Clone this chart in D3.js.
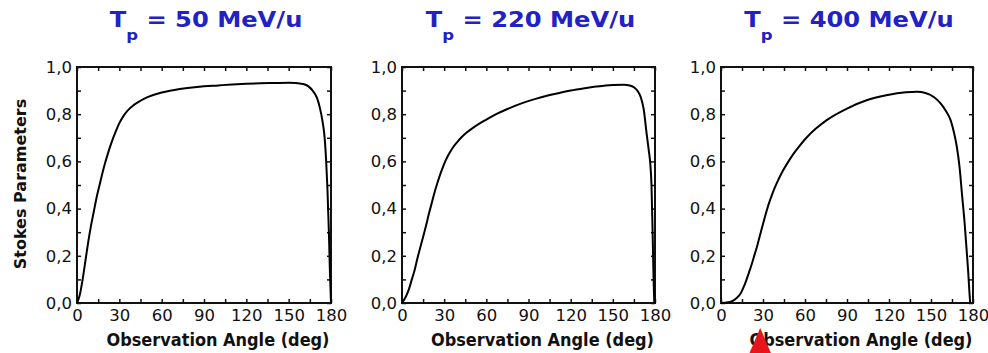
<!DOCTYPE html>
<html>
<head>
<meta charset="utf-8">
<script src="https://cdn.jsdelivr.net/npm/d3@7"></script>
<style>
  html, body { margin: 0; padding: 0; background: #fff; }
  svg { display: block; }
</style>
</head>
<body>
<svg id="chart" width="988" height="353"></svg>
<script>
// ---------- data ----------
const energies = ["50", "220", "400"];
const xTickValues = [0, 30, 60, 90, 120, 150, 180];
const yTickValues = [0.0, 0.2, 0.4, 0.6, 0.8, 1.0];

const angle50 = [0,2,4,6,8,10,12,14,16,18,20,22,24,26,28,30,33,36,40,45,50,60,70,80,90,100,110,120,130,140,150,155,160,164,167,170,172,174,175.5,176.5,177.5,178.5,179.3,180];
const stokes50 = [0,0.035,0.1,0.18,0.26,0.33,0.39,0.45,0.5,0.55,0.595,0.635,0.672,0.705,0.735,0.762,0.793,0.816,0.838,0.857,0.872,0.892,0.904,0.912,0.918,0.922,0.926,0.929,0.931,0.932,0.933,0.932,0.928,0.918,0.9,0.87,0.83,0.77,0.7,0.61,0.48,0.3,0.12,0];

const angle220 = [0,3,5,7,9,11,13,15,17,19,21,23,25,27.5,30,33,36,39,42,46,50,55,60,67,75,86,95,103,112,120,130,138,145,150,158,162,165,168,170,172,174,175.5,176.5,177.5,178.3,179,179.5];
const stokes220 = [0,0.03,0.06,0.1,0.14,0.19,0.235,0.28,0.325,0.375,0.42,0.465,0.505,0.55,0.59,0.627,0.657,0.68,0.7,0.722,0.74,0.76,0.777,0.8,0.822,0.848,0.865,0.878,0.89,0.9,0.91,0.917,0.922,0.924,0.925,0.922,0.914,0.895,0.87,0.82,0.72,0.65,0.6,0.5,0.3,0.1,0];

const angle400 = [0,5,8,11,14,16,18,20,22,24,26,28,30,32,34,37,40,44,48,52,56,61,68,75.5,90,104,118,132,140,146,152,157,161,164,166.5,168.5,170.5,172,174,175.5,176.6,177.5,178];
const stokes400 = [0,0.003,0.008,0.02,0.04,0.065,0.095,0.13,0.165,0.205,0.245,0.29,0.335,0.378,0.418,0.468,0.51,0.558,0.598,0.634,0.665,0.7,0.74,0.775,0.824,0.859,0.88,0.893,0.895,0.89,0.873,0.845,0.81,0.775,0.72,0.66,0.57,0.47,0.34,0.22,0.13,0.04,0];

const seriesAngles = [angle50, angle220, angle400];
const seriesStokes = [stokes50, stokes220, stokes400];
const arrowAngle = 28; // red arrow marker in third panel

// ---------- layout ----------
const panelLeft = [77, 402, 721];
const panelRight = [331, 655, 973];
const plotTop = 67, plotBottom = 303;

const svg = d3.select("#chart");
const tickFont = "'DejaVu Sans', sans-serif";
const fmtY = v => d3.format(".1f")(v).replace(".", ",");

energies.forEach((en, i) => {
  const x = d3.scaleLinear().domain([0, 180]).range([panelLeft[i], panelRight[i]]);
  const y = d3.scaleLinear().domain([0, 1]).range([plotBottom, plotTop]);
  const g = svg.append("g");

  const xMinor = d3.range(0, 181, 15);
  const yMinor = d3.range(0, 11).map(k => k / 10);

  g.append("g").attr("transform", `translate(0,${plotBottom})`)
    .call(d3.axisBottom(x).tickValues(xMinor).tickSize(-4).tickPadding(6)
      .tickFormat(v => xTickValues.includes(v) ? String(v) : ""));
  g.append("g").attr("transform", `translate(0,${plotTop})`)
    .call(d3.axisTop(x).tickValues(xMinor).tickSize(-4).tickFormat(""));
  g.append("g").attr("transform", `translate(${panelLeft[i]},0)`)
    .call(d3.axisLeft(y).tickValues(yMinor).tickSize(-4).tickPadding(5)
      .tickFormat(v => yTickValues.some(t => Math.abs(t - v) < 1e-9) ? fmtY(v) : ""));
  g.append("g").attr("transform", `translate(${panelRight[i]},0)`)
    .call(d3.axisRight(y).tickValues(yMinor).tickSize(-4).tickFormat(""));

  g.selectAll(".domain").remove();
  g.selectAll(".tick line").attr("stroke", "#111").attr("stroke-width", 1.5);
  g.selectAll(".tick text").attr("fill", "#111")
    .style("font-family", tickFont).style("font-size", "16.5px");

  g.append("rect")
    .attr("x", panelLeft[i]).attr("y", plotTop)
    .attr("width", panelRight[i] - panelLeft[i]).attr("height", plotBottom - plotTop)
    .attr("fill", "none").attr("stroke", "#111").attr("stroke-width", 2);

  const pts = seriesAngles[i].map((a, k) => [a, seriesStokes[i][k]]);
  g.append("path")
    .datum(pts)
    .attr("fill", "none").attr("stroke", "#000").attr("stroke-width", 2)
    .attr("stroke-linejoin", "round")
    .attr("d", d3.line().x(d => x(d[0])).y(d => y(d[1])).curve(d3.curveMonotoneX));

  const cx = (panelLeft[i] + panelRight[i]) / 2 + 2;
  const tg = g.append("g").attr("transform", `translate(${cx},27) scale(1.18,1)`);
  const t = tg.append("text").attr("text-anchor", "middle")
    .attr("fill", "#2121c6")
    .style("font-family", "'DejaVu Sans', sans-serif").style("font-weight", "bold")
    .style("font-size", "20.5px");
  t.append("tspan").text("T");
  t.append("tspan").attr("dy", 13).style("font-size", "14px").text("p");
  t.append("tspan").attr("dy", -13).text(` = ${en} MeV/u`);

  g.append("text")
    .attr("x", cx + 12).attr("y", 346)
    .attr("text-anchor", "middle")
    .attr("textLength", 223).attr("lengthAdjust", "spacingAndGlyphs")
    .attr("fill", "#111")
    .style("font-family", "'DejaVu Sans', sans-serif").style("font-weight", "bold")
    .style("font-size", "18px")
    .text("Observation Angle (deg)");

  if (i === 0) {
    g.append("text")
      .attr("transform", `translate(26,184) rotate(-90)`)
      .attr("text-anchor", "middle")
      .attr("fill", "#111")
      .style("font-family", "'DejaVu Sans', sans-serif").style("font-weight", "bold")
      .style("font-size", "16px")
      .text("Stokes Parameters");
  }

  if (i === 2) {
    const ax0 = x(arrowAngle);
    g.append("path")
      .attr("d", `M${ax0},328 L${ax0 - 12},356 L${ax0 + 12},356 Z`)
      .attr("fill", "#e8141c");
  }
});
</script>
</body>
</html>
